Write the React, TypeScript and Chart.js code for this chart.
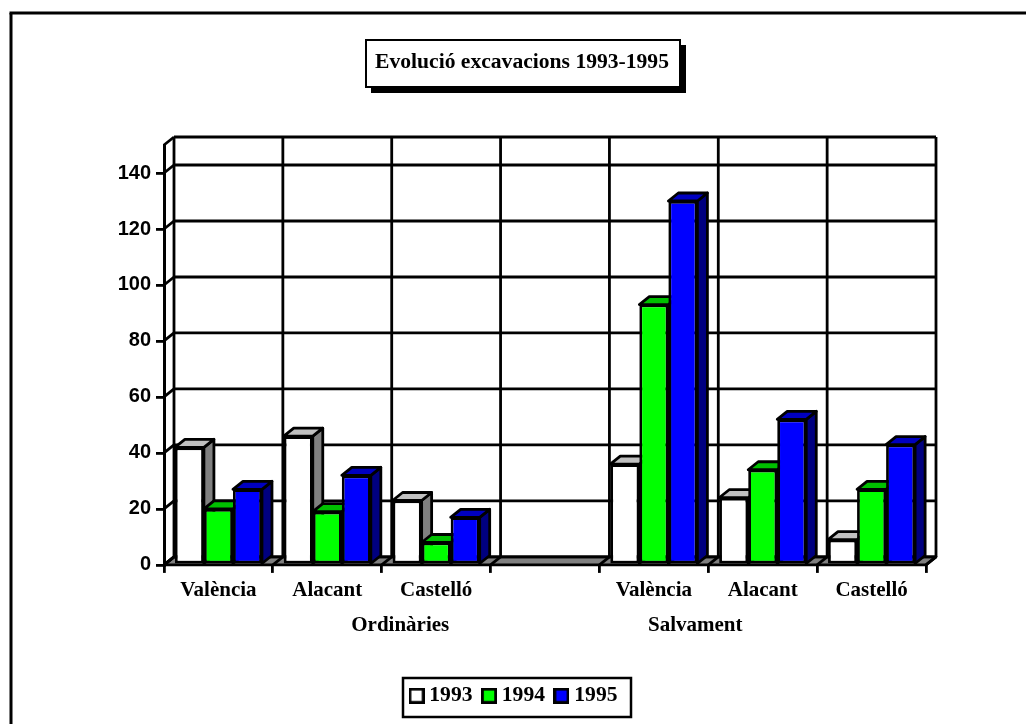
import React, { useEffect, useRef } from "react";
import { Chart, registerables } from "chart.js";

Chart.register(...registerables);

const titleText = "Evolució excavacions 1993-1995";
const categories = ["València", "Alacant", "Castelló", "", "València", "Alacant", "Castelló"];
const seriesNames = ["1993", "1994", "1995"];
const values1993 = [42, 46, 23, null, 36, 24, 9];
const values1994 = [20, 19, 8, null, 93, 34, 27];
const values1995 = [27, 32, 17, null, 130, 52, 43];
const yTicks = [0, 20, 40, 60, 80, 100, 120, 140];
const groupLabels = ["Ordinàries", "Salvament"];
const groupPositions = [1.67, 4.38];

const frontColors = ["#ffffff", "#00ff00", "#0000ff"];
const sideColors = ["#808080", "#008000", "#000080"];
const topColors = ["#c0c0c0", "#00c000", "#0000c0"];

const DX = 10;
const DY = 8;
const LINE = 2.8;
const SERIF = "'Liberation Serif', 'Times New Roman', serif";
const SANS = "'Liberation Sans', Arial, sans-serif";

function poly(ctx: CanvasRenderingContext2D, pts: number[][], fill?: string) {
  ctx.beginPath();
  pts.forEach((p, i) => (i ? ctx.lineTo(p[0], p[1]) : ctx.moveTo(p[0], p[1])));
  ctx.closePath();
  if (fill) {
    ctx.fillStyle = fill;
    ctx.fill();
  }
  ctx.stroke();
}

function seg(ctx: CanvasRenderingContext2D, x1: number, y1: number, x2: number, y2: number) {
  ctx.beginPath();
  ctx.moveTo(x1, y1);
  ctx.lineTo(x2, y2);
  ctx.stroke();
}

function swatch(color: string) {
  const c = document.createElement("canvas");
  c.width = 16;
  c.height = 16;
  const g = c.getContext("2d")!;
  g.fillStyle = color;
  g.strokeStyle = "#000";
  g.lineWidth = 2.8;
  g.fillRect(1.4, 1.4, 13.2, 13.2);
  g.strokeRect(1.4, 1.4, 13.2, 13.2);
  return c;
}

const decor = {
  id: "decor",
  afterLayout(chart: any) {
    // the legend sits slightly left of the title's centre line
    chart.legend.left -= 6;
    chart.legend.right -= 6;
  },
  beforeDraw(chart: any) {
    const ctx = chart.ctx;
    ctx.save();
    ctx.strokeStyle = "#000";
    ctx.lineWidth = 3;
    // page frame: only the top and left edges are visible
    seg(ctx, 11, 724, 11, 13);
    seg(ctx, 9.5, 13, 1026, 13);
    // title box with its drop shadow
    ctx.fillStyle = "#000";
    ctx.fillRect(371, 45, 315, 48);
    ctx.fillStyle = "#fff";
    ctx.lineWidth = 2;
    ctx.fillRect(366, 40, 314, 47);
    ctx.strokeRect(366, 40, 314, 47);
    // legend box
    ctx.lineWidth = 2.5;
    ctx.strokeRect(403, 678, 228, 39);
    ctx.restore();
  },
  beforeDatasetsDraw(chart: any) {
    const ctx = chart.ctx;
    const xs = chart.scales.x;
    const ys = chart.scales.y;
    const L = xs.left;
    const R = xs.right;
    const B = ys.bottom;
    const T = ys.top;
    ctx.save();
    ctx.strokeStyle = "#000";
    ctx.lineWidth = LINE;
    ctx.lineJoin = "round";
    // floor
    poly(ctx, [[L, B], [R, B], [R + DX, B - DY], [L + DX, B - DY]], "#808080");
    // back wall horizontals + left wall diagonals
    [...yTicks, ys.max].forEach((v: number) => {
      const y = ys.getPixelForValue(v);
      seg(ctx, L, y, L + DX, y - DY);
      seg(ctx, L + DX, y - DY, R + DX, y - DY);
    });
    // back wall verticals + floor diagonals
    for (let i = 0; i <= categories.length; i++) {
      const x = xs.getPixelForValue(i - 0.5);
      seg(ctx, x + DX, T - DY, x + DX, B - DY);
      seg(ctx, x, B, x + DX, B - DY);
    }
    // bars, painted back to front in series order: side and top, then the library's front face
    chart.data.datasets.forEach((ds: any, i: number) => {
      const meta = chart.getDatasetMeta(i);
      meta.data.forEach((bar: any, k: number) => {
        if (ds.data[k] == null) return;
        const { x, y, base, width } = bar.getProps(["x", "y", "base", "width"], true);
        const l = x - width / 2;
        const r = x + width / 2;
        poly(ctx, [[r, y], [r + DX, y - DY], [r + DX, base - DY], [r, base]], sideColors[i]);
        poly(ctx, [[l, y], [l + DX, y - DY], [r + DX, y - DY], [r, y]], topColors[i]);
      });
      meta.controller.draw();
    });
    ctx.restore();
    return false;
  },
  afterDraw(chart: any) {
    const ctx = chart.ctx;
    const xs = chart.scales.x;
    ctx.save();
    ctx.fillStyle = "#000";
    ctx.font = `bold 21px ${SERIF}`;
    ctx.textAlign = "center";
    ctx.textBaseline = "middle";
    groupLabels.forEach((t, i) => ctx.fillText(t, xs.getPixelForValue(groupPositions[i]), 626));
    ctx.restore();
  },
};

export default function App() {
  const ref = useRef<HTMLCanvasElement>(null);
  useEffect(() => {
    const seriesData = [values1993, values1994, values1995];
    const swatches = frontColors.map(swatch);
    const chart = new Chart(ref.current!, {
      type: "bar",
      data: {
        labels: categories,
        datasets: seriesNames.map((name, i) => ({
          label: name,
          data: seriesData[i],
          backgroundColor: frontColors[i],
          borderColor: "#000",
          borderWidth: LINE,
          borderSkipped: false,
          categoryPercentage: 0.8,
          barPercentage: 1,
        })),
      },
      options: {
        responsive: false,
        animation: false,
        layout: { padding: { left: 118, right: 100, top: 0, bottom: 7.5 } },
        scales: {
          x: {
            grid: { drawOnChartArea: false, drawTicks: true, tickLength: 8, color: "#000", lineWidth: LINE },
            border: { color: "#000", width: 3 },
            ticks: {
              color: "#000",
              padding: 5,
              autoSkip: false,
              maxRotation: 0,
              font: { family: SERIF, weight: "bold", size: 21 },
            },
            afterFit(scale: any) {
              scale.height = 105.5;
            },
          },
          y: {
            min: 0,
            max: 150,
            grid: { drawOnChartArea: false, drawTicks: true, tickLength: 8, color: "#000", lineWidth: LINE },
            border: { color: "#000", width: 3 },
            ticks: {
              color: "#000",
              padding: 5,
              stepSize: 20,
              font: { family: SANS, weight: "bold", size: 20 },
            },
            afterBuildTicks(scale: any) {
              scale.ticks = yTicks.map((value) => ({ value }));
            },
            afterFit(scale: any) {
              scale.width = 46;
            },
          },
        },
        plugins: {
          tooltip: { enabled: false },
          title: {
            display: true,
            text: titleText,
            color: "#000",
            font: { family: SERIF, weight: "bold", size: 21.6, lineHeight: 1.2 },
            padding: { top: 49.5, bottom: 69.6 },
          },
          legend: {
            display: true,
            position: "bottom",
            labels: {
              usePointStyle: true,
              pointStyleWidth: 4,
              boxWidth: 14,
              padding: 14.5,
              color: "#000",
              font: { family: SERIF, weight: "bold", size: 21.6 },
              generateLabels(c: any) {
                return Chart.defaults.plugins.legend.labels.generateLabels(c).map((item: any) => ({
                  ...item,
                  pointStyle: swatches[item.datasetIndex],
                }));
              },
            },
          },
        },
      } as any,
      plugins: [decor],
    });
    return () => chart.destroy();
  }, []);
  return (
    <div style={{ position: "absolute", left: 0, top: 0, width: 1026, height: 724 }}>
      <canvas ref={ref} width={1026} height={724} style={{ display: "block" }} />
    </div>
  );
}
